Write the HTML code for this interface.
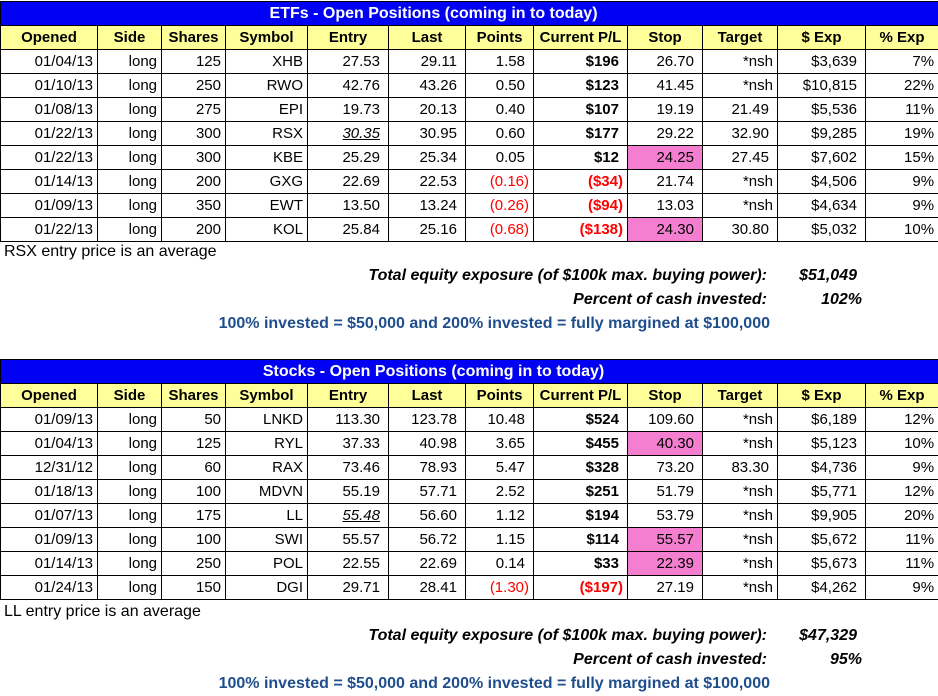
<!DOCTYPE html>
<html><head><meta charset="utf-8"><style>
body{margin:0;width:938px;height:696px;background:#fff;font-family:"Liberation Sans",Arial,sans-serif;position:relative;overflow:hidden}
table{position:absolute;left:0;border-collapse:collapse;table-layout:fixed;width:938px;font-size:15px}
td{border:1px solid #000;height:23px;padding:0 4px;text-align:right;white-space:nowrap;overflow:hidden;line-height:22px}
tr.t td{background:#0000f5;color:#fff;font-weight:bold;text-align:center;font-size:16px;padding-right:76px}
tr.h td{background:#ffff99;font-weight:bold;text-align:center}
td.b{font-weight:bold}
.r{color:#f00}
td.p{background:#f47fd0}
.pe{padding-right:8px}
.n{position:absolute;font-size:16px}
.i{font-weight:bold;font-style:italic;text-align:right}
.bl{color:#1f4e8c;font-weight:bold;text-align:right}
</style></head><body>
<table style="top:1px">
<colgroup><col style="width:97px"><col style="width:64px"><col style="width:64px"><col style="width:82px"><col style="width:81px"><col style="width:77px"><col style="width:68px"><col style="width:94px"><col style="width:75px"><col style="width:75px"><col style="width:88px"><col style="width:73px"></colgroup>
<tr class="t"><td colspan="12">ETFs - Open Positions (coming in to today)</td></tr>
<tr class="h"><td>Opened</td><td>Side</td><td>Shares</td><td>Symbol</td><td>Entry</td><td>Last</td><td>Points</td><td>Current P/L</td><td>Stop</td><td>Target</td><td>$ Exp</td><td>% Exp</td></tr>
<tr><td>01/04/13</td><td>long</td><td>125</td><td>XHB</td><td class="pe">27.53</td><td class="pe">29.11</td><td class="pe">1.58</td><td class="b pe">$196</td><td class="pe">26.70</td><td>*nsh</td><td class="pe">$3,639</td><td>7%</td></tr>
<tr><td>01/10/13</td><td>long</td><td>250</td><td>RWO</td><td class="pe">42.76</td><td class="pe">43.26</td><td class="pe">0.50</td><td class="b pe">$123</td><td class="pe">41.45</td><td>*nsh</td><td class="pe">$10,815</td><td>22%</td></tr>
<tr><td>01/08/13</td><td>long</td><td>275</td><td>EPI</td><td class="pe">19.73</td><td class="pe">20.13</td><td class="pe">0.40</td><td class="b pe">$107</td><td class="pe">19.19</td><td class="pe">21.49</td><td class="pe">$5,536</td><td>11%</td></tr>
<tr><td>01/22/13</td><td>long</td><td>300</td><td>RSX</td><td class="pe"><i><u>30.35</u></i></td><td class="pe">30.95</td><td class="pe">0.60</td><td class="b pe">$177</td><td class="pe">29.22</td><td class="pe">32.90</td><td class="pe">$9,285</td><td>19%</td></tr>
<tr><td>01/22/13</td><td>long</td><td>300</td><td>KBE</td><td class="pe">25.29</td><td class="pe">25.34</td><td class="pe">0.05</td><td class="b pe">$12</td><td class="p pe">24.25</td><td class="pe">27.45</td><td class="pe">$7,602</td><td>15%</td></tr>
<tr><td>01/14/13</td><td>long</td><td>200</td><td>GXG</td><td class="pe">22.69</td><td class="pe">22.53</td><td class="r">(0.16)</td><td class="b r">($34)</td><td class="pe">21.74</td><td>*nsh</td><td class="pe">$4,506</td><td>9%</td></tr>
<tr><td>01/09/13</td><td>long</td><td>350</td><td>EWT</td><td class="pe">13.50</td><td class="pe">13.24</td><td class="r">(0.26)</td><td class="b r">($94)</td><td class="pe">13.03</td><td>*nsh</td><td class="pe">$4,634</td><td>9%</td></tr>
<tr><td>01/22/13</td><td>long</td><td>200</td><td>KOL</td><td class="pe">25.84</td><td class="pe">25.16</td><td class="r">(0.68)</td><td class="b r">($138)</td><td class="p pe">24.30</td><td class="pe">30.80</td><td class="pe">$5,032</td><td>10%</td></tr>
</table>
<div class="n" style="left:4px;top:243px">RSX entry price is an average</div>
<div class="n i" style="right:171px;top:267px">Total equity exposure (of $100k max. buying power):</div>
<div class="n i" style="right:81px;top:267px">$51,049</div>
<div class="n i" style="right:171px;top:291px">Percent of cash invested:</div>
<div class="n i" style="right:76px;top:291px">102%</div>
<div class="n bl" style="right:168px;top:315px">100% invested = $50,000 and 200% invested = fully margined at $100,000</div>

<table style="top:359px">
<colgroup><col style="width:97px"><col style="width:64px"><col style="width:64px"><col style="width:82px"><col style="width:81px"><col style="width:77px"><col style="width:68px"><col style="width:94px"><col style="width:75px"><col style="width:75px"><col style="width:88px"><col style="width:73px"></colgroup>
<tr class="t"><td colspan="12">Stocks - Open Positions (coming in to today)</td></tr>
<tr class="h"><td>Opened</td><td>Side</td><td>Shares</td><td>Symbol</td><td>Entry</td><td>Last</td><td>Points</td><td>Current P/L</td><td>Stop</td><td>Target</td><td>$ Exp</td><td>% Exp</td></tr>
<tr><td>01/09/13</td><td>long</td><td>50</td><td>LNKD</td><td class="pe">113.30</td><td class="pe">123.78</td><td class="pe">10.48</td><td class="b pe">$524</td><td class="pe">109.60</td><td>*nsh</td><td class="pe">$6,189</td><td>12%</td></tr>
<tr><td>01/04/13</td><td>long</td><td>125</td><td>RYL</td><td class="pe">37.33</td><td class="pe">40.98</td><td class="pe">3.65</td><td class="b pe">$455</td><td class="p pe">40.30</td><td>*nsh</td><td class="pe">$5,123</td><td>10%</td></tr>
<tr><td>12/31/12</td><td>long</td><td>60</td><td>RAX</td><td class="pe">73.46</td><td class="pe">78.93</td><td class="pe">5.47</td><td class="b pe">$328</td><td class="pe">73.20</td><td class="pe">83.30</td><td class="pe">$4,736</td><td>9%</td></tr>
<tr><td>01/18/13</td><td>long</td><td>100</td><td>MDVN</td><td class="pe">55.19</td><td class="pe">57.71</td><td class="pe">2.52</td><td class="b pe">$251</td><td class="pe">51.79</td><td>*nsh</td><td class="pe">$5,771</td><td>12%</td></tr>
<tr><td>01/07/13</td><td>long</td><td>175</td><td>LL</td><td class="pe"><i><u>55.48</u></i></td><td class="pe">56.60</td><td class="pe">1.12</td><td class="b pe">$194</td><td class="pe">53.79</td><td>*nsh</td><td class="pe">$9,905</td><td>20%</td></tr>
<tr><td>01/09/13</td><td>long</td><td>100</td><td>SWI</td><td class="pe">55.57</td><td class="pe">56.72</td><td class="pe">1.15</td><td class="b pe">$114</td><td class="p pe">55.57</td><td>*nsh</td><td class="pe">$5,672</td><td>11%</td></tr>
<tr><td>01/14/13</td><td>long</td><td>250</td><td>POL</td><td class="pe">22.55</td><td class="pe">22.69</td><td class="pe">0.14</td><td class="b pe">$33</td><td class="p pe">22.39</td><td>*nsh</td><td class="pe">$5,673</td><td>11%</td></tr>
<tr><td>01/24/13</td><td>long</td><td>150</td><td>DGI</td><td class="pe">29.71</td><td class="pe">28.41</td><td class="r">(1.30)</td><td class="b r">($197)</td><td class="pe">27.19</td><td>*nsh</td><td class="pe">$4,262</td><td>9%</td></tr>
</table>
<div class="n" style="left:4px;top:603px">LL entry price is an average</div>
<div class="n i" style="right:171px;top:627px">Total equity exposure (of $100k max. buying power):</div>
<div class="n i" style="right:81px;top:627px">$47,329</div>
<div class="n i" style="right:171px;top:651px">Percent of cash invested:</div>
<div class="n i" style="right:76px;top:651px">95%</div>
<div class="n bl" style="right:168px;top:675px">100% invested = $50,000 and 200% invested = fully margined at $100,000</div>
</body></html>
